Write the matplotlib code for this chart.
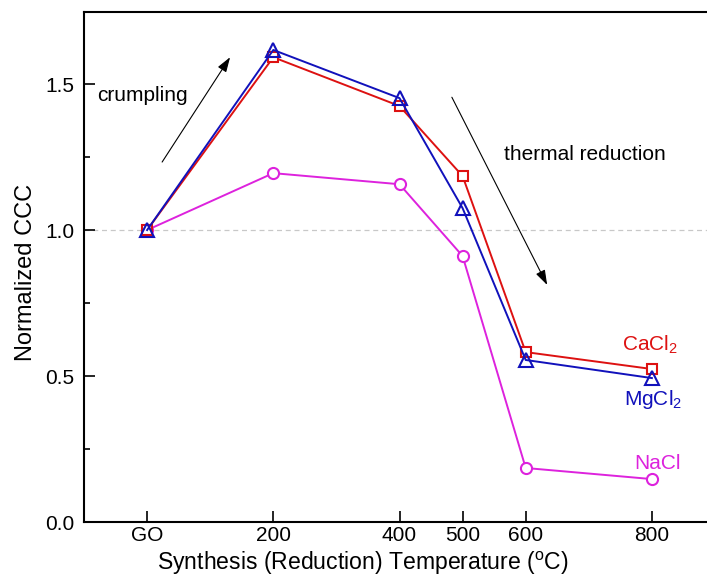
import matplotlib
matplotlib.use("Agg")
import matplotlib.pyplot as plt
from matplotlib.ticker import MultipleLocator

plt.rcParams['font.family'] = ['Liberation Sans', 'DejaVu Sans']
plt.rcParams['mathtext.fontset'] = 'custom'
plt.rcParams['mathtext.rm'] = 'Liberation Sans'
plt.rcParams['mathtext.it'] = 'Liberation Sans:italic'

# Data
temps = [0, 200, 400, 500, 600, 800]
tick_labels = ['GO', '200', '400', '500', '600', '800']
cacl2 = [1.00, 1.592, 1.425, 1.185, 0.582, 0.524]
mgcl2 = [1.00, 1.617, 1.452, 1.075, 0.555, 0.493]
nacl = [1.00, 1.195, 1.157, 0.911, 0.185, 0.147]

red = '#dd1111'
blue = '#1111bb'
mag = '#dd22dd'

fig = plt.figure(figsize=(7.07, 5.77), dpi=100)
ax = fig.add_axes([84/707, 55/577, 631/707, 510/577])

ax.axhline(1.0, color='#c8c8c8', lw=0.9, dashes=(4, 3), zorder=0)

ax.plot(temps, nacl, color=mag, lw=1.4, marker='o', ms=8, mfc='white', mec=mag, mew=1.5, zorder=3)
ax.plot(temps, cacl2, color=red, lw=1.4, marker='s', ms=7.5, mfc='white', mec=red, mew=1.5, zorder=4)
ax.plot(temps, mgcl2, color=blue, lw=1.4, marker='^', ms=10, mfc='none', mec=blue, mew=1.5, zorder=5)

ax.set_xlim(-100, 900)
ax.set_ylim(0, 1.747)
ax.set_xticks(temps)
ax.set_xticklabels(tick_labels)
ax.yaxis.set_major_locator(MultipleLocator(0.5))
ax.yaxis.set_minor_locator(MultipleLocator(0.25))
ax.yaxis.set_major_formatter(matplotlib.ticker.FormatStrFormatter('%.1f'))
ax.tick_params(axis='both', which='major', direction='in', length=8, width=1.2, labelsize=15)
ax.tick_params(axis='y', which='major', pad=7)
ax.tick_params(axis='x', which='major', pad=3)
ax.tick_params(axis='y', which='minor', direction='in', length=4, width=1.2)
for s in ['left', 'bottom', 'top']:
    ax.spines[s].set_linewidth(1.5)
ax.spines['right'].set_visible(False)

ax.set_xlabel(r'Synthesis (Reduction) Temperature ($^{\mathrm{o}}$C)', fontsize=16.6, va='center')
ax.xaxis.set_label_coords((363-84)/631, (522-563)/510)
ax.set_ylabel('Normalized CCC', fontsize=17, va='center')
ax.yaxis.set_label_coords((26-84)/631, 0.49)

arrow_kw = dict(arrowstyle='-|>,head_length=0.9,head_width=0.3', color='black', lw=0.8, shrinkA=0, shrinkB=0)
ax.annotate('', xy=(131.5, 1.592), xytext=(23.8, 1.233), arrowprops=arrow_kw)
ax.annotate('', xy=(634, 0.812), xytext=(483, 1.455), arrowprops=arrow_kw)

ax.text(-79, 1.462, 'crumpling', fontsize=15, va='center', ha='left')
ax.text(566, 1.26, 'thermal reduction', fontsize=15, va='center', ha='left')
ax.text(753, 0.606, r'CaCl$_2$', fontsize=15, color=red, va='center', ha='left')
ax.text(755, 0.418, r'MgCl$_2$', fontsize=15, color=blue, va='center', ha='left')
ax.text(772, 0.202, 'NaCl', fontsize=15, color=mag, va='center', ha='left')

fig.savefig('out.png', dpi=100)
